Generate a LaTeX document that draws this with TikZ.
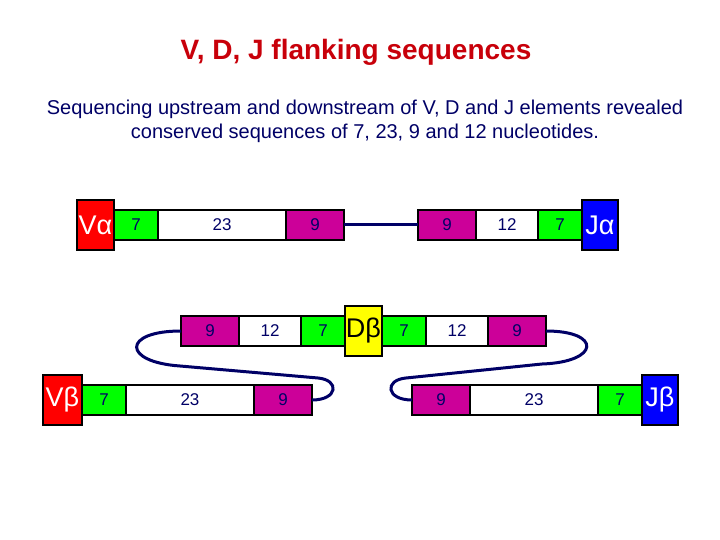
\documentclass[tikz,border=0pt]{standalone}
\usepackage{fontspec}
\setmainfont{Liberation Sans}
\usetikzlibrary{positioning}
\definecolor{segnavy}{RGB}{0,0,102}
\definecolor{titlered}{RGB}{200,0,10}
\definecolor{heptgreen}{RGB}{0,255,0}
\definecolor{nonmag}{RGB}{204,0,153}
\definecolor{genered}{RGB}{255,0,0}
\definecolor{geneyellow}{RGB}{255,255,0}
\definecolor{geneblue}{RGB}{0,0,255}

\begin{document}
\begin{tikzpicture}[
    x=1pt,y=-1pt,
    font=\fontsize{17}{20}\selectfont,
    gene/.style={draw=black, line width=1.5pt, minimum width=37pt, minimum height=50pt, inner sep=0pt, outer sep=0pt, text=white, font=\fontsize{27}{30}\selectfont},
    seg/.style={draw=black, line width=1.5pt, minimum height=30pt, inner sep=0pt, outer sep=0pt, text=segnavy},
    heptamer/.style={seg, fill=heptgreen, minimum width=44pt},
    nonamer/.style={seg, fill=nonmag, minimum width=58pt},
    spacer/.style={seg, fill=white, minimum width=#1},
    loopline/.style={draw=segnavy, line width=3pt}
  ]
    % Titel und Text
    \node[text=titlered, font=\fontsize{28}{32}\selectfont\bfseries] (title) at (356,52) {V, D, J flanking sequences};
    \node[align=center, text=segnavy, font=\fontsize{20}{24}\selectfont] (sub) at (365,121)
      {Sequencing upstream and downstream of V, D and J elements revealed\\conserved sequences of 7, 23, 9 and 12 nucleotides.};

    % alpha: V -- J
    \node[gene, fill=genered] (va) at (95.5,225) {Vα};
    \node[heptamer, right=0pt of va] (va7) {7};
    \node[spacer=128pt, right=0pt of va7] (va23) {23};
    \node[nonamer, right=0pt of va23] (va9) {9};
    \node[gene, fill=geneblue, minimum width=36pt] (ja) at (600,225) {Jα};
    \node[heptamer, left=0pt of ja] (ja7) {7};
    \node[spacer=62pt, left=0pt of ja7] (ja12) {12};
    \node[nonamer, left=0pt of ja12] (ja9) {9};
    \draw[loopline] (va9.east) -- (ja9.west);

    % beta: D in der Mitte
    \node[gene, fill=geneyellow, text=black] (db) at (363.5,331) {Dβ};
    \node[heptamer, left=0pt of db] (dbl7) {7};
    \node[spacer=62pt, left=0pt of dbl7] (dbl12) {12};
    \node[nonamer, left=0pt of dbl12] (dbl9) {9};
    \node[heptamer, right=0pt of db] (dbr7) {7};
    \node[spacer=62pt, right=0pt of dbr7] (dbr12) {12};
    \node[nonamer, right=0pt of dbr12] (dbr9) {9};

    % beta: V und J
    \node[gene, fill=genered, minimum width=39pt] (vb) at (62.5,400) {Vβ};
    \node[heptamer, right=0pt of vb] (vb7) {7};
    \node[spacer=128pt, right=0pt of vb7] (vb23) {23};
    \node[nonamer, right=0pt of vb23] (vb9) {9};
    \node[gene, fill=geneblue, minimum width=36pt] (jb) at (660,400) {Jβ};
    \node[heptamer, left=0pt of jb] (jb7) {7};
    \node[spacer=128pt, left=0pt of jb7] (jb23) {23};
    \node[nonamer, left=0pt of jb23] (jb9) {9};

    % Schleifen
    \draw[loopline] (dbl9.west) .. controls (122,331) and (122,362) .. (180,366)
      -- (318,378) .. controls (340,380) and (338,400) .. (vb9.east);
    \draw[loopline] (dbr9.east) .. controls (602,331) and (600,362) .. (542,364)
      -- (406,378) .. controls (384,380) and (386,400) .. (jb9.west);

    % Rahmen
    \useasboundingbox (0,0) rectangle (720,540);
  \end{tikzpicture}
\end{document}
